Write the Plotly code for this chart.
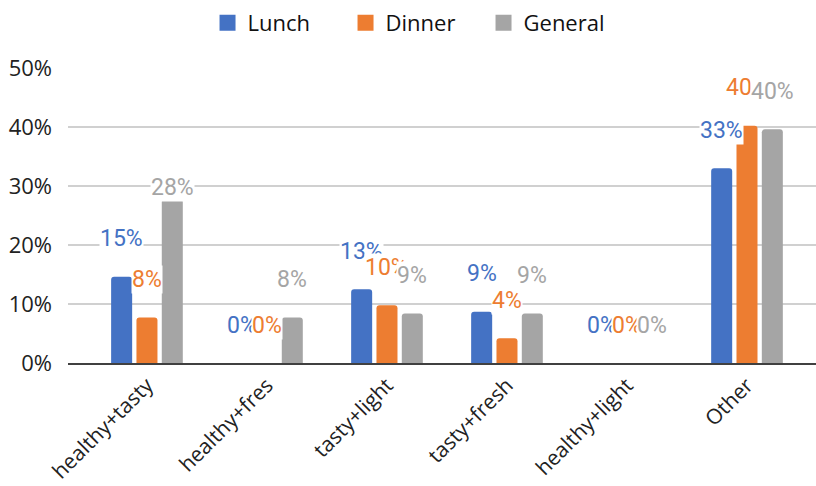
import plotly.graph_objects as go

categories = ["healthy+tasty", "healthy+fres", "tasty+light", "tasty+fresh", "healthy+light", "Other"]
series_names = ["Lunch", "Dinner", "General"]
lunch = [14.6, 0.0, 12.5, 8.7, 0.0, 33.0]
dinner = [7.7, 0.0, 9.8, 4.2, 0.0, 40.2]
general = [27.8, 7.7, 8.4, 8.4, 0.0, 39.6]
lunch_labels = ["15%", "0%", "13%", "9%", "0%", "33%"]
dinner_labels = ["8%", "0%", "10%", "4%", "0%", "40%"]
general_labels = ["28%", "8%", "9%", "9%", "0%", "40%"]
y_ticks = [0, 10, 20, 30, 40, 50]
y_tick_text = ["0%", "10%", "20%", "30%", "40%", "50%"]

colors = ["#4472C4", "#ED7D31", "#A5A5A5"]
values = [lunch, dinner, general]
labels = [lunch_labels, dinner_labels, general_labels]

BARGAP = 0.367
GROUPGAP = 0.17
step = (1 - BARGAP) / 3

fig = go.Figure()
for name, vals, col in zip(series_names, values, colors):
    fig.add_trace(go.Bar(x=categories, y=vals, name=name, showlegend=False,
                         marker=dict(color=col, line=dict(width=0))))
for name, col in zip(series_names, colors):
    fig.add_trace(go.Scatter(x=[None], y=[None], mode="markers", name=name,
                             marker=dict(symbol="square", size=22, color=col)))

annotations = []
for k, (vals, labs, col) in enumerate(zip(values, labels, colors)):
    for i, (v, t) in enumerate(zip(vals, labs)):
        shift = 38
        if k == 2 and i == 0:
            shift = 11
        annotations.append(dict(
            x=i + (k - 1) * step, y=v, xref="x", yref="y", text=t, showarrow=False,
            yshift=shift, font=dict(family="Roboto", size=23, color=col),
            bgcolor="white", borderpad=0,
        ))

fig.update_layout(
    width=816, height=486,
    margin=dict(l=68, r=0, t=68, b=123, autoexpand=False),
    paper_bgcolor="white", plot_bgcolor="white",
    barmode="group", bargap=BARGAP, bargroupgap=GROUPGAP, barcornerradius=3,
    font=dict(family="Open Sans", color="#222222"),
    legend=dict(orientation="h", xref="container", yref="container", x=0.508, xanchor="center",
                y=0.953, yanchor="middle", font=dict(size=22, color="#111111"),
                itemwidth=30, tracegroupgap=0, itemsizing="trace",
                entrywidth=93, entrywidthmode="pixels"),
    annotations=annotations,
    xaxis=dict(range=[-0.658, 5.575], tickangle=-45, tickfont=dict(size=21, color="#222222"),
               showline=True, linecolor="#404040", linewidth=1.5, ticks="", showgrid=False,
               automargin=False),
    yaxis=dict(range=[0, 50], tickvals=y_ticks, ticktext=y_tick_text,
               tickfont=dict(size=22, color="#222222"),
               showgrid=True, gridcolor="#d0d0d0", gridwidth=1.5, zeroline=False, ticks="",
               ticklabelstandoff=15, automargin=False),
)

fig.write_html("out.html", config={"displayModeBar": False},
               post_script="document.body.style.margin='0px';")
